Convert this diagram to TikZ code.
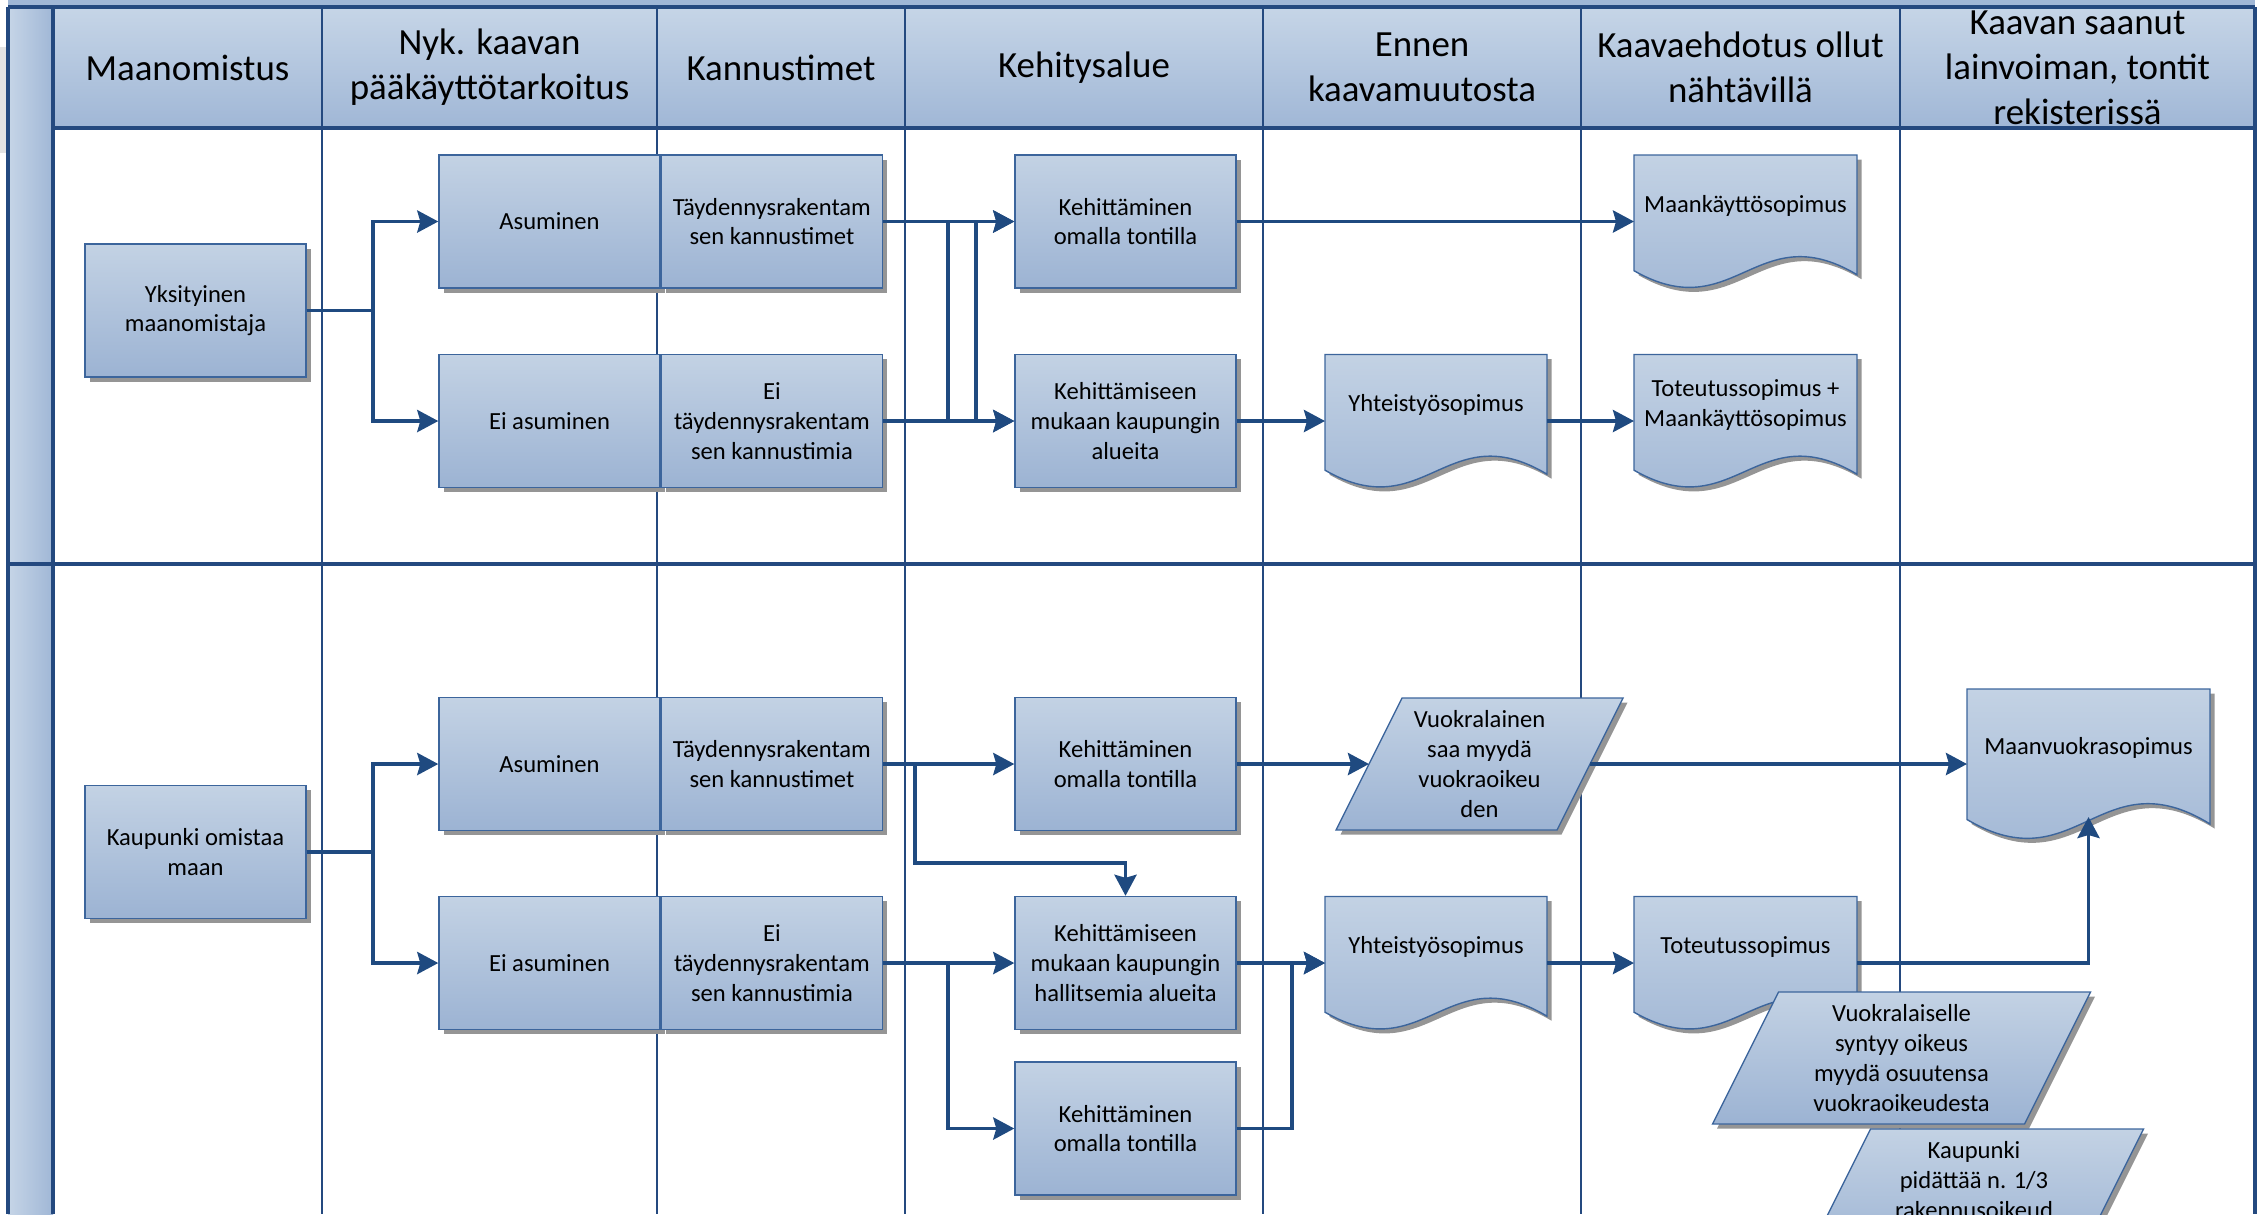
\documentclass[tikz,border=0pt]{standalone}
\usepackage{fontspec}
\setmainfont{Carlito}
\usetikzlibrary{arrows.meta,positioning,calc,shadows}

\definecolor{lanetop}{HTML}{C6D5E7}
\definecolor{lanebot}{HTML}{A0B7D6}
\definecolor{boxtop}{HTML}{C3D2E4}
\definecolor{boxbot}{HTML}{9CB3D3}
\definecolor{boxline}{HTML}{3C659C}
\definecolor{gridline}{HTML}{24497F}
\definecolor{flow}{HTML}{1F4A80}
\definecolor{shadowgrey}{HTML}{959595}

\tikzset{
  box/.style={rectangle, draw=boxline, line width=0.4pt,
    top color=boxtop, bottom color=boxbot,
    minimum width=2.21cm, minimum height=1.33cm, inner sep=1pt,
    align=center, font=\fontsize{7}{8.5}\selectfont,
    drop shadow={fill=shadowgrey, opacity=1, shadow xshift=0.045cm, shadow yshift=-0.045cm}},
  shapefill/.style={draw=boxline, line width=0.4pt, top color=boxtop, bottom color=boxbot},
  hidden/.style={rectangle, inner sep=0pt, outer sep=0pt},
  boxtext/.style={align=center, inner sep=0pt, font=\fontsize{7}{8.5}\selectfont},
  head/.style={align=center, font=\fontsize{10.5}{12.8}\selectfont},
  lane/.style={draw=gridline, line width=1pt},
  col/.style={draw=gridline, line width=0.7pt},
  arr/.style={draw=flow, line width=1.1pt, -{Stealth[length=0.21cm, width=0.22cm, inset=0.03cm]}}
}

% document shape, unit size, centred
\newcommand{\docpath}{(-0.5,0.5) -- (0.5,0.5) -- (0.5,-0.4) .. controls (0.05,0.05) and (-0.05,-0.8) .. (-0.5,-0.37) -- cycle}

% name, position, width, height, text
\newcommand{\docshape}[5]{%
  \begin{scope}[shift={(#2)}]
    \fill[shadowgrey, shift={(0.045,-0.045)}, xscale=#3, yscale=#4] \docpath;
    \shadedraw[shapefill, xscale=#3, yscale=#4] \docpath;
  \end{scope}
  \node[hidden, minimum width=#3cm, minimum height=#4cm] (#1) at (#2) {};
  \node[boxtext] (#1-t) at ($(#1)+(0,0.16)$) {#5};
}

% name, position, side width, text
\newcommand{\parashape}[4]{%
  \begin{scope}[shift={(#2)}]
    \fill[shadowgrey, shift={(0.045,-0.045)}] (-#3/2+0.33,0.66) -- (#3/2+0.33,0.66) -- (#3/2-0.33,-0.66) -- (-#3/2-0.33,-0.66) -- cycle;
    \shadedraw[shapefill] (-#3/2+0.33,0.66) -- (#3/2+0.33,0.66) -- (#3/2-0.33,-0.66) -- (-#3/2-0.33,-0.66) -- cycle;
  \end{scope}
  \node[hidden, boxtext, minimum width=#3cm, minimum height=1.32cm] (#1) at (#2) {#4};
}

\begin{document}
\begin{tikzpicture}
  \useasboundingbox (0,0) rectangle (22.64,-12.14);
  \clip (0,0) rectangle (22.64,-12.14);

  % pool frame
  \fill[gray!22] (0,-0.47) rectangle (0.07,-1.53);
  \fill[lanebot] (0.08,0) rectangle (22.55,-0.07);
  \shade[top color=lanetop, bottom color=lanebot] (0.53,-0.07) rectangle (22.55,-1.28);
  \shade[left color=lanetop, right color=lanebot] (0.08,-0.07) rectangle (0.53,-12.14);
  \foreach \x in {3.22,6.57,9.05,12.63,15.81,19.00}
    \draw[col] (\x,-0.07) -- (\x,-12.14);
  \draw[lane] (0.08,-0.07) -- (22.55,-0.07);
  \draw[lane] (0.53,-1.28) -- (22.55,-1.28);
  \draw[lane] (0.08,-5.64) -- (22.55,-5.64);
  \draw[lane] (0.08,-0.07) -- (0.08,-12.14);
  \draw[lane] (0.53,-0.07) -- (0.53,-12.14);
  \draw[lane] (22.55,-0.07) -- (22.55,-12.14);

  % headers
  \node[head] (h1) at (1.875,-0.675) {Maanomistus};
  \node[head] (h2) at (4.895,-0.675) {Nyk. kaavan\\pääkäyttötarkoitus};
  \node[head] (h3) at (7.81,-0.675) {Kannustimet};
  \node[head] (h4) at (10.84,-0.675) {Kehitysalue};
  \node[head] (h5) at (14.22,-0.675) {Ennen\\kaavamuutosta};
  \node[head] (h6) at (17.405,-0.675) {Kaavaehdotus ollut\\nähtävillä};
  \node[head] (h7) at (20.775,-0.675) {Kaavan saanut\\lainvoiman, tontit\\rekisterissä};

  % yksityinen maanomistaja
  \node[box] (yk) at (1.955,-3.105) {Yksityinen\\maanomistaja};
  \node[box] (as1) at (5.495,-2.215) {Asuminen};
  \node[box, right=0pt of as1] (ta1) {Täydennysrakentam\\sen kannustimet};
  \node[box] (eas1) at (5.495,-4.21) {Ei asuminen};
  \node[box, right=0pt of eas1] (et1) {Ei\\täydennysrakentam\\sen kannustimia};
  \node[box] (ke1) at (11.255,-2.215) {Kehittäminen\\omalla tontilla};
  \node[box] (kk1) at (11.255,-4.21) {Kehittämiseen\\mukaan kaupungin\\alueita};
  \docshape{mk1}{17.455,-2.215}{2.23}{1.33}{Maankäyttösopimus}
  \docshape{ys1}{14.36,-4.21}{2.22}{1.33}{Yhteistyösopimus}
  \docshape{tm1}{17.455,-4.21}{2.23}{1.33}{Toteutussopimus +\\Maankäyttösopimus}

  % kaupunki omistaa maan
  \node[box] (kp) at (1.955,-8.52) {Kaupunki omistaa\\maan};
  \node[box] (as2) at (5.495,-7.64) {Asuminen};
  \node[box, right=0pt of as2] (ta2) {Täydennysrakentam\\sen kannustimet};
  \node[box] (eas2) at (5.495,-9.63) {Ei asuminen};
  \node[box, right=0pt of eas2] (et2) {Ei\\täydennysrakentam\\sen kannustimia};
  \node[box] (ke2) at (11.255,-7.64) {Kehittäminen\\omalla tontilla};
  \node[box] (kk2) at (11.255,-9.63) {Kehittämiseen\\mukaan kaupungin\\hallitsemia alueita};
  \node[box] (ke3) at (11.255,-11.285) {Kehittäminen\\omalla tontilla};
  \parashape{vu}{14.795,-7.64}{2.21}{Vuokralainen\\saa myydä\\vuokraoikeu\\den}
  \docshape{mv}{20.885,-7.64}{2.43}{1.50}{Maanvuokrasopimus}
  \docshape{ys2}{14.36,-9.63}{2.22}{1.33}{Yhteistyösopimus}
  \docshape{to2}{17.455,-9.63}{2.23}{1.33}{Toteutussopimus}
  \parashape{vo}{19.015,-10.58}{3.12}{Vuokralaiselle\\syntyy oikeus\\myydä osuutensa\\vuokraoikeudesta}
  \parashape{kr}{19.74,-11.95}{2.73}{Kaupunki\\pidättää n. 1/3\\rakennusoikeud\\esta}

  % flows, upper lane
  \draw[arr] (yk.east) -- ++(0.66,0) |- (as1.west);
  \draw[arr] (yk.east) -- ++(0.66,0) |- (eas1.west);
  \draw[arr] (ta1.east) -- (ke1.west);
  \draw[arr] (ta1.east) -- ++(0.65,0) |- (kk1.west);
  \draw[arr] (et1.east) -- (kk1.west);
  \draw[arr] (et1.east) -- ++(0.93,0) |- (ke1.west);
  \draw[arr] (ke1.east) -- (mk1.west);
  \draw[arr] (kk1.east) -- (ys1.west);
  \draw[arr] (ys1.east) -- (tm1.west);

  % flows, lower lane
  \draw[arr] (kp.east) -- ++(0.66,0) |- (as2.west);
  \draw[arr] (kp.east) -- ++(0.66,0) |- (eas2.west);
  \draw[arr] (ta2.east) -- (ke2.west);
  \draw[arr] (ta2.east) -- ++(0.32,0) -- ++(0,-0.99) -| (kk2.north);
  \draw[arr] (et2.east) -- (kk2.west);
  \draw[arr] (et2.east) -- ++(0.65,0) |- (ke3.west);
  \draw[arr] (ke2.east) -- (vu.west);
  \draw[arr] (vu.east) -- (mv.west);
  \draw[arr] (kk2.east) -- (ys2.west);
  \draw[arr] (ke3.east) -- ++(0.55,0) |- (ys2.west);
  \draw[arr] (ys2.east) -- (to2.west);
  \draw[arr] (to2.east) -| ($(mv.south)+(0,0.22)$);
\end{tikzpicture}
\end{document}
